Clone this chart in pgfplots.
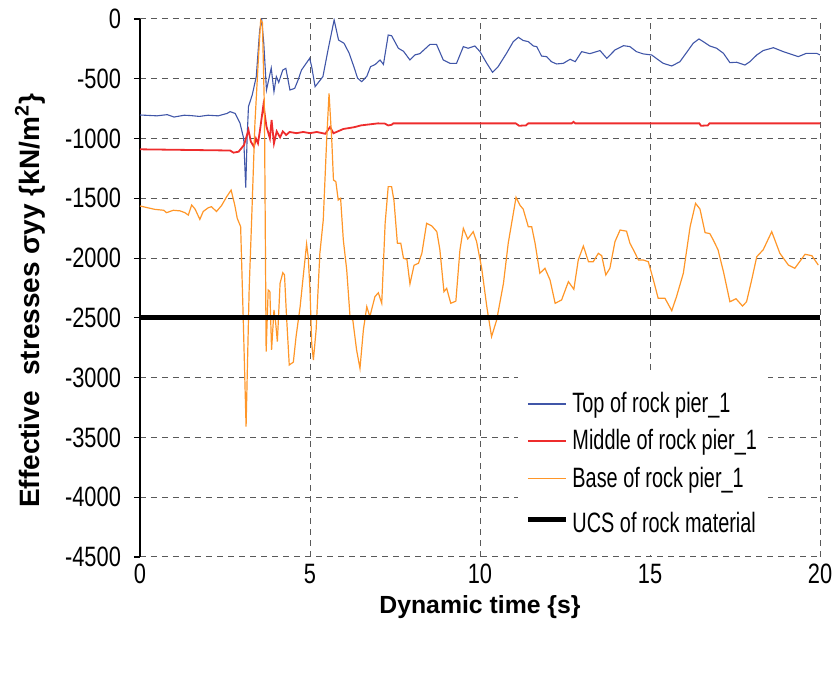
\documentclass[border=0pt]{standalone}
\usepackage{fontspec}
\setmainfont{Liberation Sans}
\newfontfamily\tickfont[FakeStretch=0.78]{Liberation Sans}
\newfontfamily\legfont[FakeStretch=0.71]{Liberation Sans}
\usepackage{pgfplots}
\pgfplotsset{compat=1.18}

\definecolor{topblue}{RGB}{64,86,168}
\definecolor{midred}{RGB}{238,44,44}
\definecolor{baseorange}{RGB}{255,150,40}

\begin{document}
\begin{tikzpicture}
\begin{axis}[
    scale only axis,
    width=340pt, height=269pt,
    xmin=0, xmax=20, ymin=-4500, ymax=0,
    xtick={0,5,10,15,20},
    ytick={-4500,-4000,...,0},
    grid=major,
    grid style={black!65, line width=0.5pt, dash pattern=on 3pt off 2.5pt},
    axis y line*=left,
    x axis line style={draw=none},
    y axis line style={black, line width=0.6pt, -},
    xtick style={draw=none},
    ytick style={black, line width=0.6pt},
    tick align=outside,
    major tick length=3pt,
    /pgf/number format/assume math mode=true,
    /pgf/number format/1000 sep={},
    tick label style={font=\tickfont\fontsize{14}{16}\selectfont},
    yticklabel style={xshift=-3pt},
    xticklabel style={yshift=3pt},
    xlabel={Dynamic time \{s\}},
    ylabel={Effective\ \ stresses σyy \{kN/m\textsuperscript{2}\}},
    xlabel style={font=\bfseries\fontsize{12.4}{14}\selectfont, at={(axis description cs:0.5,-0.093)}, anchor=center},
    ylabel style={font=\bfseries\fontsize{14}{16}\selectfont, at={(axis description cs:-0.1618,0.476)}, anchor=center},
    legend style={at={(0.556,0.344)}, anchor=north west, draw=none, fill=white,
        font=\legfont\fontsize{14}{16}\selectfont, row sep=3pt, inner xsep=3.5pt, inner ysep=8pt,
        nodes={inner xsep=2pt}},
    legend cell align=left,
    legend image code/.code={\draw[#1] (0pt,0pt) -- (19pt,0pt);},
]
% Top of rock pier_1
\addplot[color=topblue, line width=0.55pt] coordinates {
(0,-803) (0.5,-810) (0.8,-800) (1.0,-820) (1.3,-805) (1.5,-808) (1.75,-815) (2.0,-805)
(2.3,-810) (2.56,-790) (2.65,-775) (2.8,-790) (2.94,-870) (3.05,-1000) (3.11,-1410)
(3.15,-1000) (3.19,-733) (3.3,-636) (3.42,-482) (3.52,-92) (3.58,-5) (3.64,-201)
(3.72,-594) (3.86,-410) (3.94,-608) (4.01,-482) (4.08,-530) (4.2,-427) (4.29,-413)
(4.41,-594) (4.55,-580) (4.65,-510) (4.75,-427) (4.99,-329) (5.05,-400) (5.15,-566)
(5.38,-482) (5.53,-259) (5.71,-8) (5.84,-176) (6.0,-203) (6.15,-285) (6.29,-399)
(6.4,-495) (6.52,-524) (6.67,-480) (6.78,-399) (6.92,-380) (7.06,-343) (7.16,-380)
(7.30,-134) (7.4,-140) (7.6,-245) (7.75,-270) (7.94,-343) (8.09,-300) (8.23,-290)
(8.53,-212) (8.72,-212) (8.92,-343) (9.12,-371) (9.31,-371) (9.51,-231) (9.65,-245)
(9.85,-226) (10.0,-273) (10.2,-371) (10.37,-446) (10.53,-400) (10.78,-287) (10.98,-189)
(11.13,-153) (11.27,-180) (11.42,-189) (11.57,-226) (11.67,-231) (11.81,-310)
(11.96,-315) (12.1,-357) (12.25,-376) (12.45,-371) (12.65,-337) (12.8,-357) (12.99,-273)
(13.23,-290) (13.53,-264) (13.73,-329) (13.97,-259) (14.22,-223) (14.41,-231)
(14.6,-273) (14.8,-292) (15.05,-301) (15.25,-343) (15.39,-371) (15.64,-393) (15.88,-357)
(16.13,-259) (16.27,-203) (16.44,-167) (16.57,-190) (16.76,-226) (16.96,-245)
(17.16,-287) (17.35,-365) (17.55,-362) (17.79,-385) (17.94,-357) (18.14,-301)
(18.33,-264) (18.63,-240) (18.92,-273) (19.12,-292) (19.36,-315) (19.6,-287)
(19.9,-287) (20,-301)
};
\addlegendentry{Top of rock pier\_1}
% Middle of rock pier_1
\addplot[color=midred, line width=0.9pt] coordinates {
(0,-1090) (2.65,-1100) (2.75,-1118) (2.9,-1110) (3.06,-1054) (3.19,-928) (3.26,-1026)
(3.35,-1068) (3.41,-1000) (3.47,-1040) (3.53,-928) (3.63,-719) (3.72,-900) (3.82,-998)
(3.87,-845) (3.94,-1040) (4.02,-940) (4.12,-990) (4.2,-940) (4.3,-970) (4.4,-945)
(4.6,-955) (4.8,-945) (5.0,-955) (5.2,-945) (5.45,-960) (5.59,-903) (5.69,-956)
(5.98,-920) (6.3,-905) (6.5,-890) (7.0,-873) (7.2,-875) (7.3,-890) (7.4,-885)
(7.45,-873) (11.05,-873) (11.15,-893) (11.35,-890) (11.42,-873) (12.7,-873)
(12.75,-860) (12.8,-873) (16.45,-873) (16.5,-893) (16.7,-890) (16.75,-873) (20,-873)
};
\addlegendentry{Middle of rock pier\_1}
% Base of rock pier_1
\addplot[color=baseorange, line width=0.6pt] coordinates {
(0,-1564) (0.43,-1592) (0.7,-1600) (0.78,-1620) (0.98,-1600) (1.18,-1605) (1.32,-1620)
(1.42,-1640) (1.52,-1556) (1.62,-1590) (1.76,-1676) (1.86,-1610) (2.0,-1580)
(2.1,-1570) (2.25,-1610) (2.4,-1560) (2.55,-1486) (2.68,-1431) (2.79,-1560)
(2.86,-1667) (2.96,-1737) (3.04,-2545) (3.12,-3410) (3.21,-2267) (3.28,-1709)
(3.38,-873) (3.48,-343) (3.55,-8) (3.6,-30) (3.66,-761) (3.71,-2782) (3.77,-2267)
(3.82,-2280) (3.87,-2768) (3.94,-2434) (3.99,-2540) (4.04,-2699) (4.12,-2211)
(4.2,-2122) (4.25,-2140) (4.31,-2490) (4.39,-2894) (4.51,-2870) (4.59,-2657)
(4.71,-2406) (4.8,-2155) (4.9,-1882) (4.95,-2000) (5.0,-2267) (5.05,-2713) (5.1,-2852)
(5.18,-2600) (5.29,-1960) (5.39,-1681) (5.49,-1012) (5.56,-622) (5.64,-1012)
(5.69,-1347) (5.76,-1360) (5.83,-1514) (5.9,-1500) (5.98,-1848) (6.08,-2099)
(6.18,-2501) (6.26,-2520) (6.37,-2768) (6.47,-2922) (6.57,-2601) (6.67,-2406)
(6.76,-2490) (6.91,-2322) (7.01,-2290) (7.11,-2378) (7.21,-1709) (7.3,-1402)
(7.4,-1402) (7.47,-1520) (7.57,-1876) (7.67,-1876) (7.75,-2002) (7.85,-2010)
(7.94,-2216) (8.06,-2060) (8.19,-2043) (8.29,-1960) (8.43,-1709) (8.58,-1730)
(8.73,-1779) (8.82,-1930) (8.94,-2281) (9.02,-2253) (9.14,-2378) (9.29,-2360)
(9.41,-1932) (9.51,-1751) (9.64,-1840) (9.8,-1779) (9.9,-1862) (10.05,-2085)
(10.2,-2406) (10.34,-2657) (10.49,-2518) (10.69,-2211) (10.83,-1876) (11.06,-1492)
(11.18,-1560) (11.27,-1590) (11.42,-1737) (11.52,-1737) (11.62,-1876) (11.76,-2127)
(11.91,-2085) (12.06,-2183) (12.21,-2378) (12.4,-2350) (12.6,-2197) (12.76,-2261)
(12.89,-2016) (13.04,-1899) (13.19,-2030) (13.33,-2030) (13.48,-1960) (13.58,-1980)
(13.7,-2141) (13.82,-2085) (13.97,-1862) (14.12,-1765) (14.31,-1775) (14.41,-1876)
(14.51,-1930) (14.66,-2016) (14.8,-2016) (14.95,-2030) (15.1,-2183) (15.24,-2336)
(15.44,-2336) (15.64,-2440) (15.78,-2322) (15.98,-2127) (16.18,-1737) (16.34,-1542)
(16.47,-1590) (16.62,-1787) (16.76,-1795) (16.86,-1848) (17.0,-1930) (17.16,-2113)
(17.35,-2365) (17.53,-2340) (17.72,-2401) (17.84,-2365) (17.99,-2183) (18.14,-1988)
(18.33,-1930) (18.58,-1779) (18.82,-1960) (19.07,-2058) (19.26,-2085) (19.56,-1968)
(19.76,-1980) (19.95,-2058)
};
\addlegendentry{Base of rock pier\_1}
% UCS of rock material
\addplot[color=black, line width=2.5pt] coordinates {(0,-2500) (20,-2500)};
\addlegendentry{\rule{0pt}{14pt}UCS of rock material}
\end{axis}
\pgfresetboundingbox
\path[use as bounding box] ([shift={(-70pt,-62.5pt)}]current axis.south west) rectangle ([shift={(7.5pt,9.5pt)}]current axis.north east);
\end{tikzpicture}
\end{document}
